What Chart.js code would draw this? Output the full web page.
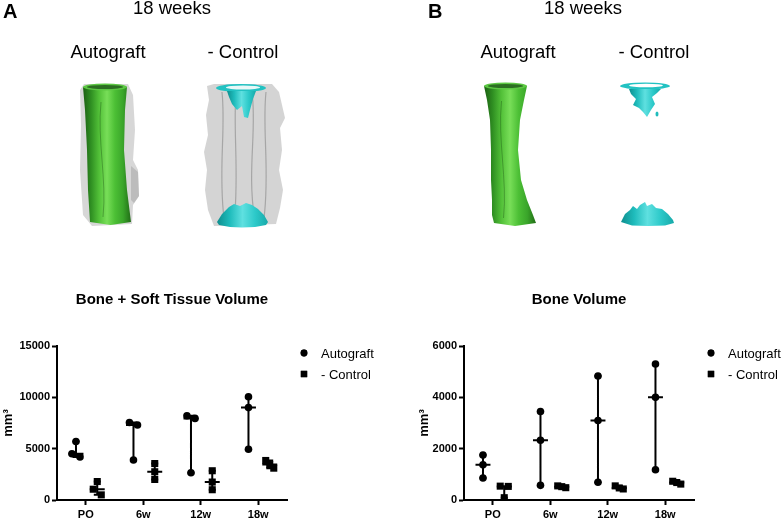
<!DOCTYPE html>
<html>
<head>
<meta charset="utf-8">
<script src="https://cdn.jsdelivr.net/npm/chart.js@4"></script>
<style>
  body { margin: 0; background: #fff; }
  #page { position: relative; width: 782px; height: 520px; overflow: hidden; font-family: Arial, "Liberation Sans", sans-serif; color: #000; }
  .lbl { position: absolute; white-space: nowrap; line-height: 1; }
  .c { transform: translateX(-50%); }
  canvas { position: absolute; }
</style>
</head>
<body>
<div id="page">
  <canvas id="renders" width="782" height="280" style="left:0;top:0"></canvas>
  <div class="lbl" style="left:3px;top:1px;font-size:20px;font-weight:bold">A</div>
  <div class="lbl" style="left:428px;top:1px;font-size:20px;font-weight:bold">B</div>
  <div class="lbl c" style="left:172px;top:-1px;font-size:18.5px">18 weeks</div>
  <div class="lbl c" style="left:583px;top:-1px;font-size:18.5px">18 weeks</div>
  <div class="lbl c" style="left:108px;top:43px;font-size:18.5px">Autograft</div>
  <div class="lbl c" style="left:243px;top:43px;font-size:18.5px">- Control</div>
  <div class="lbl c" style="left:518px;top:43px;font-size:18.5px">Autograft</div>
  <div class="lbl c" style="left:654px;top:43px;font-size:18.5px">- Control</div>
  <div style="position:absolute;left:0;top:280px;width:390px;height:240px"><canvas id="softChart"></canvas></div>
  <div style="position:absolute;left:390px;top:280px;width:392px;height:240px"><canvas id="boneChart"></canvas></div>
</div>
<script>
// groups along the x axis
const categories = ["PO", "6w", "12w", "18w"];

// Bone + Soft Tissue Volume (mm3), three animals per group
const softAutograft = [[5700, 4500, 4200], [7550, 7300, 3900], [8200, 7950, 2650], [10050, 9000, 4950]];
const softControl = [[1800, 1050, 500], [3550, 2750, 2000], [2850, 1750, 1000], [3850, 3450, 3100]];
const softTicks = [0, 5000, 10000, 15000];

// Bone Volume (mm3)
const boneAutograft = [[1750, 1370, 860], [3450, 2330, 570], [4830, 3100, 690], [5300, 4000, 1180]];
const boneControl = [[540, 530, 90], [550, 520, 480], [550, 470, 430], [730, 680, 620]];
const boneTicks = [0, 2000, 4000, 6000];

const seriesNames = ["Autograft", "- Control"];

Chart.defaults.font.family = 'Arial, "Liberation Sans", sans-serif';
Chart.defaults.color = "#000";

function median(vals) {
    const s = [...vals].sort((a, b) => a - b);
    return s[Math.floor(s.length / 2)];
}

// spread points that would sit on top of each other, like a dot plot does
function spread(vals, top) {
    const idx = vals.map((v, i) => i).sort((a, b) => vals[b] - vals[a]);
    const off = vals.map(() => 0);
    let cluster = [idx[0]];
    const flush = () => {
        const n = cluster.length;
        cluster.forEach((k, j) => { off[k] = n > 1 ? (j / (n - 1) - 0.5) * 0.14 : 0; });
    };
    for (let j = 1; j < idx.length; j++) {
        if (vals[idx[j - 1]] - vals[idx[j]] < top * 0.04) cluster.push(idx[j]);
        else { flush(); cluster = [idx[j]]; }
    }
    flush();
    return off;
}

function points(groups, shift, top) {
    const out = [];
    groups.forEach((vals, i) => {
        const off = spread(vals, top);
        vals.forEach((v, k) => out.push({ x: i + shift + off[k], y: v }));
    });
    return out;
}

// median line plus min-max range with small caps
function rangeLines(groups, shift) {
    const out = [];
    groups.forEach((vals, i) => {
        const c = i + shift, lo = Math.min(...vals), hi = Math.max(...vals), md = median(vals);
        out.push({ x: c, y: lo }, { x: c, y: hi }, { x: c, y: null });
        out.push({ x: c - 0.13, y: md }, { x: c + 0.13, y: md }, { x: c, y: null });
        out.push({ x: c - 0.06, y: hi }, { x: c + 0.06, y: hi }, { x: c, y: null });
        out.push({ x: c - 0.06, y: lo }, { x: c + 0.06, y: lo }, { x: c, y: null });
    });
    return out;
}

const panelDecor = {
    id: "panelDecor",
    afterDraw(chart, args, opts) {
        const { ctx, chartArea } = chart;
        ctx.save();
        ctx.fillStyle = "#000";
        ctx.textAlign = "center";
        ctx.textBaseline = "middle";
        ctx.font = "bold 15px Arial, 'Liberation Sans', sans-serif";
        ctx.fillText(opts.title, (chartArea.left + chartArea.right) / 2, chartArea.top - 46);
        ctx.textAlign = "left";
        ctx.font = "13px Arial, 'Liberation Sans', sans-serif";
        const styles = ["circle", "rect"];
        seriesNames.forEach((name, i) => {
            const y = chartArea.top + 7 + i * 21;
            Chart.helpers.drawPoint(ctx, { pointStyle: styles[i], radius: i ? 4.5 : 3.4, borderWidth: 0, rotation: 0 }, chartArea.right + 17, y);
            ctx.fill();
            ctx.fillText(name, chartArea.right + 34, y + 1);
        });
        ctx.restore();
    }
};

function makeChart(id, title, autoVals, ctrlVals, yTicks, yWidth, padRight, titlePad) {
    const top = yTicks[yTicks.length - 1];
    const axisLine = {
        grid: { drawOnChartArea: false, drawTicks: true, tickLength: 5, tickWidth: 2, tickColor: "#000" },
        border: { display: true, color: "#000", width: 2 }
    };
    return new Chart(document.getElementById(id), {
        type: "scatter",
        data: {
            datasets: [
                {
                    label: seriesNames[0],
                    data: points(autoVals, -0.17, top),
                    pointStyle: "circle",
                    pointRadius: 3.8,
                    backgroundColor: "#000",
                    borderWidth: 0,
                    order: 0
                },
                {
                    label: seriesNames[1],
                    data: points(ctrlVals, 0.2, top),
                    pointStyle: "rect",
                    pointRadius: 5,
                    backgroundColor: "#000",
                    borderWidth: 0,
                    order: 0
                },
                {
                    label: "range",
                    data: rangeLines(autoVals, -0.17).concat(rangeLines(ctrlVals, 0.2)),
                    showLine: true,
                    spanGaps: false,
                    pointRadius: 0,
                    borderColor: "#000",
                    borderWidth: 2,
                    order: 1
                }
            ]
        },
        options: {
            responsive: true,
            maintainAspectRatio: false,
            animation: false,
            events: [],
            layout: { padding: { top: 66, right: padRight, left: 0, bottom: 0 } },
            plugins: {
                legend: { display: false },
                tooltip: { enabled: false },
                panelDecor: { title: title }
            },
            scales: {
                x: {
                    type: "linear",
                    min: -0.5,
                    max: 3.5,
                    afterBuildTicks: s => { s.ticks = categories.map((c, i) => ({ value: i })); },
                    afterFit: s => { s.height = 20; },
                    ticks: {
                        autoSkip: false,
                        maxRotation: 0,
                        padding: 3,
                        font: { size: 11, weight: "bold" },
                        callback: v => categories[v]
                    },
                    ...axisLine
                },
                y: {
                    min: 0,
                    max: top,
                    afterBuildTicks: s => { s.ticks = yTicks.map(v => ({ value: v })); },
                    afterFit: s => { s.width = yWidth; },
                    ticks: { padding: 2, font: { size: 11, weight: "bold" }, callback: v => String(v) },
                    title: { display: true, text: "mm³", font: { size: 13, weight: "bold" }, padding: { top: titlePad, bottom: 0 } },
                    ...axisLine
                }
            }
        },
        plugins: [panelDecor]
    });
}

makeChart("softChart", "Bone + Soft Tissue Volume", softAutograft, softControl, softTicks, 57, 103, 1);
makeChart("boneChart", "Bone Volume", boneAutograft, boneControl, boneTicks, 74, 88, 27);

// micro-CT style renders above the charts
const rc = document.getElementById("renders").getContext("2d");

function poly(pts, fill) {
    rc.beginPath();
    pts.forEach(([x, y], i) => (i ? rc.lineTo(x, y) : rc.moveTo(x, y)));
    rc.closePath();
    rc.fillStyle = fill;
    rc.fill();
}

function grad(x0, x1, stops) {
    const g = rc.createLinearGradient(x0, 0, x1, 0);
    stops.forEach((c, i) => g.addColorStop(i / (stops.length - 1), c));
    return g;
}

const greenStops = ["#1b5e12", "#2f8f22", "#52c038", "#78de58", "#4cbf35", "#3aa52a", "#216d16"];
const cyanStops = ["#0e8e8e", "#1fbcbc", "#5fe0e0", "#2cc9c9", "#17a9a9"];

function tube(profile) {
    const left = profile.map(([y, xl]) => [xl, y]);
    const right = profile.map(([y, xl, xr]) => [xr, y]).reverse();
    const last = profile[profile.length - 1];
    const xs = profile.flatMap(p => [p[1], p[2]]);
    const bottom = [[(last[1] + last[2]) / 2, last[0] + 3]];
    poly(left.concat(bottom, right), grad(Math.min(...xs), Math.max(...xs), greenStops));
    const t = profile[0];
    const cx = (t[1] + t[2]) / 2, rx = (t[2] - t[1]) / 2;
    rc.beginPath(); rc.ellipse(cx, t[0], rx, 3.5, 0, 0, Math.PI * 2); rc.fillStyle = "#5cc843"; rc.fill();
    rc.beginPath(); rc.ellipse(cx, t[0], rx - 4, 2, 0, 0, Math.PI * 2); rc.fillStyle = "#2c6e22"; rc.fill();
    rc.strokeStyle = "rgba(20,70,15,0.35)"; rc.lineWidth = 1;
    rc.beginPath(); rc.moveTo(cx - 4, t[0] + 15); rc.bezierCurveTo(cx - 8, 140, cx + 2, 180, cx - 2, last[0] - 5); rc.stroke();
}

// A: autograft, soft tissue shell behind the bone
poly([[80, 90], [84, 84], [128, 84], [133, 95], [135, 130], [133, 160], [138, 170], [139, 196], [133, 205], [132, 224], [92, 226], [83, 215], [80, 170], [81, 125]], "rgba(150,150,150,0.38)");
tube([[87, 83, 127], [110, 85, 125], [150, 87, 124], [190, 88, 127], [222, 90, 131]]);
poly([[131, 166], [138, 172], [139, 196], [134, 203], [131, 200]], "rgba(165,165,165,0.55)");

// A: control, soft tissue column with bone only at the ends
poly([[207, 86], [214, 84], [272, 84], [279, 92], [282, 105], [285, 118], [280, 128], [282, 150], [279, 170], [283, 190], [280, 208], [276, 224], [214, 226], [208, 210], [205, 190], [207, 170], [204, 152], [208, 135], [206, 115], [209, 100]], "rgba(170,170,170,0.5)");
rc.strokeStyle = "rgba(110,110,110,0.45)"; rc.lineWidth = 1.2;
[[222, 4], [236, -3], [252, 5], [266, -4]].forEach(([x, w]) => {
    rc.beginPath(); rc.moveTo(x, 92); rc.bezierCurveTo(x + w, 130, x - w, 170, x + w / 2, 218); rc.stroke();
});
rc.beginPath(); rc.ellipse(241, 88, 25, 4, 0, 0, Math.PI * 2); rc.fillStyle = "#22c2c2"; rc.fill();
rc.beginPath(); rc.ellipse(243, 87.5, 17, 2, 0, 0, Math.PI * 2); rc.fillStyle = "#e8f8f8"; rc.fill();
poly([[227, 91], [256, 91], [253, 99], [250, 110], [248, 118], [244, 117], [242, 106], [237, 110], [232, 104], [229, 97]], grad(227, 256, cyanStops));
poly([[217, 222], [222, 214], [229, 207], [234, 204], [240, 206], [246, 203], [252, 205], [258, 209], [264, 215], [268, 222], [266, 225], [255, 227], [242, 227.5], [230, 227], [219, 225]], grad(217, 268, cyanStops));

// B: autograft bone
tube([[86, 484, 527], [100, 487, 524], [120, 490, 520], [150, 491, 518], [180, 491, 521], [200, 492, 527], [215, 492, 533], [223, 494, 536]]);

// B: control bone, only the ends
rc.beginPath(); rc.ellipse(645, 86, 25, 3.5, 0, 0, Math.PI * 2); rc.fillStyle = "#22c2c2"; rc.fill();
rc.beginPath(); rc.ellipse(646, 85.5, 17, 1.8, 0, 0, Math.PI * 2); rc.fillStyle = "#ffffff"; rc.fill();
poly([[629, 89], [661, 89], [657, 93], [652, 97], [655, 104], [651, 110], [647, 117], [643, 112], [639, 108], [633, 105], [636, 99], [631, 94]], grad(629, 661, cyanStops));
rc.beginPath(); rc.ellipse(657, 114, 1.5, 2.5, 0, 0, Math.PI * 2); rc.fillStyle = "#1fbcbc"; rc.fill();
poly([[621, 222], [625, 214], [630, 210], [633, 206], [637, 209], [640, 205], [645, 202], [647, 206], [652, 204], [656, 208], [662, 209], [668, 214], [673, 220], [674, 223], [665, 225.5], [648, 226], [632, 225.5]], grad(621, 674, cyanStops));
</script>
</body>
</html>
